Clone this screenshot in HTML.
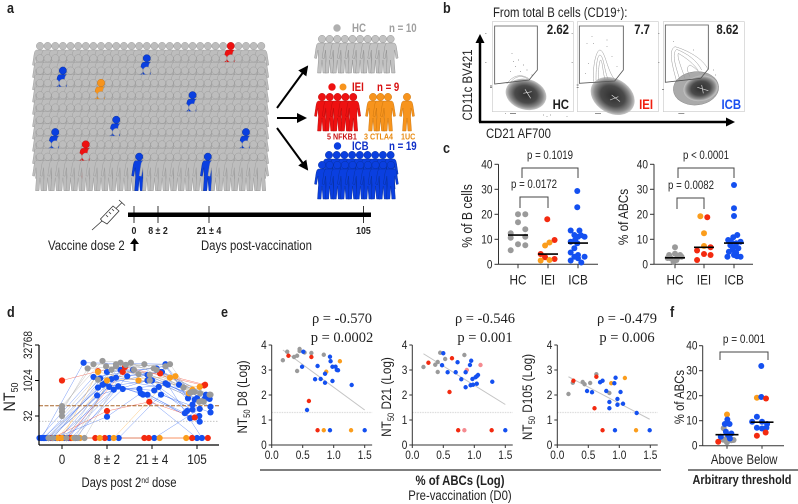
<!DOCTYPE html>
<html>
<head>
<meta charset="utf-8">
<title>Vaccination figure</title>
<style>
html,body{margin:0;padding:0;background:#fff;width:798px;height:504px;overflow:hidden}
svg{display:block;font-family:"Liberation Sans",sans-serif}
text{fill:#222}
.wide{font-family:"Liberation Serif",serif}
.letter{font-size:15px;font-weight:bold;fill:#222}
</style>
</head>
<body>
<svg id="fig" xmlns="http://www.w3.org/2000/svg" width="798" height="504" viewBox="0 0 798 504">
<defs>
<g id="person"><circle cx="0" cy="0" r="3.7"/><path d="M-3,4 L3,4 C5,4 5.5,6 6,9 L7.5,19 L5.5,19.5 L4,11 L3.5,20 L4.5,34 L1,34 L0,21 L-1,34 L-4.5,34 L-3.5,20 L-4,11 L-5.5,19.5 L-7.5,19 L-6,9 C-5.5,6 -5,4 -3,4 Z"/></g>
<radialGradient id="blob"><stop offset="0" stop-color="#2e2e2e"/><stop offset=".55" stop-color="#4a4a4a"/><stop offset=".82" stop-color="#8a8a8a"/><stop offset="1" stop-color="#c8c8c8"/></radialGradient>
<marker id="ah" viewBox="0 0 10 10" refX="8" refY="5" markerWidth="5" markerHeight="5" orient="auto"><path d="M0,0 L10,5 L0,10 Z" fill="#000"/></marker>
</defs>

<text class="letter" x="7" y="13">a</text>
<text class="letter" x="443" y="13">b</text>
<text class="letter" x="443" y="153">c</text>
<text class="letter" x="7" y="317">d</text>
<text class="letter" x="221" y="317">e</text>
<text class="letter" x="670" y="317">f</text>

<!-- panel a -->
<g id="crowd"></g>
<g id="groups"></g>
<g font-size="11.500">
<circle cx="337" cy="28" r="3.7" fill="#b0b0b0"/>
<text x="352" y="32" font-weight="bold" style="fill:#a0a0a0">HC</text>
<text x="389" y="32" font-weight="bold" style="fill:#a0a0a0">n = 10</text>
<circle cx="332" cy="87" r="3.7" fill="#ee1111"/>
<circle cx="343" cy="87" r="3.5" fill="#f7941d"/>
<text x="352" y="91" font-weight="bold" style="fill:#d81010">IEI</text>
<text x="377" y="91" font-weight="bold" style="fill:#d81010">n = 9</text>
<text x="327" y="139.500" font-size="8.500" font-weight="bold" style="fill:#c81414">5 NFKB1</text>
<text x="364" y="139.500" font-size="8.500" font-weight="bold" style="fill:#e88a10">3 CTLA4</text>
<text x="401" y="139.500" font-size="8.500" font-weight="bold" style="fill:#e88a10">1UC</text>
<circle cx="337.500" cy="146" r="3.7" fill="#0a3fe0"/>
<text x="352" y="150" font-weight="bold" style="fill:#1030c8">ICB</text>
<text x="389" y="150" font-weight="bold" style="fill:#1030c8">n = 19</text>
</g>
<g stroke="#000" stroke-width="2">
<line x1="277" y1="108" x2="307" y2="67" marker-end="url(#ah)"/>
<line x1="277" y1="118" x2="305" y2="118" marker-end="url(#ah)"/>
<line x1="277" y1="128" x2="307" y2="169" marker-end="url(#ah)"/>
</g>
<g>
<rect x="128" y="212.500" width="243" height="4.500" fill="#000"/>
<line x1="134" y1="206" x2="134" y2="223" stroke="#000" stroke-width=".8"/>
<line x1="158" y1="206" x2="158" y2="223" stroke="#000" stroke-width=".8"/>
<line x1="209" y1="206" x2="209" y2="223" stroke="#000" stroke-width=".8"/>
<line x1="363.500" y1="206" x2="363.500" y2="223" stroke="#000" stroke-width=".8"/>
<text x="134" y="234" font-size="10.500" font-weight="bold" text-anchor="middle">0</text>
<text x="158" y="234" font-size="10.500" font-weight="bold" text-anchor="middle">8 ± 2</text>
<text x="209" y="234" font-size="10.500" font-weight="bold" text-anchor="middle">21 ± 4</text>
<text x="363.500" y="234" font-size="10.500" font-weight="bold" text-anchor="middle">105</text>
<text x="48" y="250" font-size="13.500">Vaccine dose 2</text>
<text x="201" y="250" font-size="13.500">Days post-vaccination</text>
<path d="M134.500,238 L130,244 L133.500,244 L133.500,251 L135.500,251 L135.500,244 L139,244 Z" fill="#000"/>
<g stroke="#333" stroke-width=".8" fill="#fff">
<path d="M92,230 L102,221"/>
<path d="M102,221 L100.500,219 L113,206 L119,211 L107,224 Z"/>
<path d="M116,208.500 L122,202.500 M119,200 L125,205.500 M106,215 L108,217 M109,212 L111,214 M112,209 L114,211" fill="none"/>
</g>
</g>

<!-- panel b -->
<text x="493" y="17" font-size="13.500">From total B cells (CD19<tspan font-size="8" dy="-4">+</tspan><tspan dy="4">):</tspan></text>
<g transform="translate(460,0) scale(.33333)">
<g>
<rect x="97" y="65" width="243" height="270" fill="#fff" stroke="#ccc" stroke-width="2"/>
<path d="M150,250 C165,225 190,225 207,240 M140,252 C165,215 200,225 215,245" fill="none" stroke="#999" stroke-width="1.500"/>
<ellipse cx="198" cy="283" rx="62" ry="46" transform="rotate(15 198 283)" fill="url(#blob)"/>
<path d="M195,268 L212,295 M190,280 L215,275" stroke="#ddd" stroke-width="2"/>
<path d="M104,78 L232,78 L232,210 L207,240 L104,252 Z" fill="none" stroke="#555" stroke-width="2.500"/>
<path d="M155,160h2M175,180h2M165,200h2M190,195h2M150,215h2M200,210h2M180,215h2M160,185h2M215,225h2M250,345h2M260,350h2M270,345h2M320,350h2M150,340h18M135,340h2M90,258h6M90,262h6M76,100h3M76,187h3" stroke="#444" stroke-width="2" fill="none"/>
</g>
<g>
<rect x="352" y="65" width="243" height="270" fill="#fff" stroke="#ccc" stroke-width="2"/>
<ellipse cx="458" cy="288" rx="70" ry="52" transform="rotate(30 458 288)" fill="url(#blob)"/>
<path d="M400,245 C398,190 410,150 420,150 C437,155 440,210 465,240 M408,240 C408,195 412,165 420,165 C432,170 432,210 445,240 M415,240 C415,210 418,180 422,180 C428,185 428,215 435,238" fill="none" stroke="#999" stroke-width="1.500"/>
<path d="M455,285 L480,305 M450,300 L475,290" stroke="#ddd" stroke-width="2"/>
<path d="M358,78 L490,78 L490,210 L464,243 L358,250 Z" fill="none" stroke="#555" stroke-width="2.500"/>
<path d="M380,130h2M400,130h2M440,140h2M455,170h2M385,190h2M375,220h2M470,200h2M440,120h2M395,110h2M405,340h18M350,255h6M350,262h6M335,100h3M335,187h3" stroke="#555" stroke-width="2" fill="none"/>
</g>
<g>
<rect x="610" y="65" width="243" height="270" fill="#fff" stroke="#ccc" stroke-width="2"/>
<ellipse cx="708" cy="265" rx="68" ry="50" transform="rotate(-5 708 265)" fill="#aaa" stroke="#888" stroke-width="1.500"/>
<ellipse cx="722" cy="265" rx="52" ry="38" transform="rotate(-10 722 265)" fill="url(#blob)"/>
<path d="M650,245 C635,190 625,150 645,140 C680,150 730,175 745,210 M660,240 C645,195 635,160 650,148 C680,160 710,180 725,210 M675,235 C665,205 650,170 655,160 C680,175 700,190 715,212 M690,230 C680,210 680,200 690,195 C700,200 712,210 720,220" fill="none" stroke="#999" stroke-width="1.500"/>
<path d="M712,262 L745,272 M725,255 L730,280" stroke="#ddd" stroke-width="2"/>
<path d="M616,75 L745,75 L745,207 L722,235 L616,247 Z" fill="none" stroke="#555" stroke-width="2.500"/>
<path d="M760,210h2M765,225h2M700,150h2M640,125h2M655,340h18M606,268h6M595,100h3M595,187h3" stroke="#555" stroke-width="2" fill="none"/>
</g>
</g>
<g font-weight="bold" font-size="13.500">
<text x="569" y="34" text-anchor="end">2.62</text>
<text x="650" y="34" text-anchor="end">7.7</text>
<text x="738.500" y="34" text-anchor="end">8.62</text>
<text x="569" y="109" text-anchor="end">HC</text>
<text x="653" y="109" text-anchor="end" style="fill:#f02010">IEI</text>
<text x="741" y="109" text-anchor="end" style="fill:#1a50f0">ICB</text>
</g>
<g>
<path d="M480,122 L480,42" stroke="#000" stroke-width="2.500"/>
<path d="M480,34 L475.500,43 L484.500,43 Z" fill="#000"/>
<path d="M479,122 L727,122" stroke="#000" stroke-width="2.500"/>
<path d="M735,122 L726,117.500 L726,126.500 Z" fill="#000"/>
<text x="472" y="85" font-size="13.500" text-anchor="middle" transform="rotate(-90 472 85)">CD11c BV421</text>
<text x="486" y="138" font-size="13.500">CD21 AF700</text>
</g>

<!-- panel c -->
<g id="panelC"></g>
<text x="472" y="216" font-size="14.500" text-anchor="middle" transform="rotate(-90 472 216)">% of B cells</text>
<text x="628" y="217" font-size="14" text-anchor="middle" transform="rotate(-90 628 217)">% of ABCs</text>
<g fill="none" stroke="#444" stroke-width="1">
<path d="M522,178 V168 H578 V178"/>
<path d="M520,208 V197 H548 V208"/>
<path d="M678,178 V168 H734 V178"/>
<path d="M677,209 V198 H704 V209"/>
</g>
<g font-size="11.500" text-anchor="middle">
<text x="550" y="159">p = 0.1019</text>
<text x="534" y="188">p = 0.0172</text>
<text x="706" y="159">p &lt; 0.0001</text>
<text x="691" y="189">p = 0.0082</text>
</g>

<!-- panel d -->
<g id="panelD"></g>
<text x="15" y="397" font-size="17" text-anchor="middle" transform="rotate(-90 15 397)">NT<tspan font-size="10.500" dy="3">50</tspan></text>
<text x="129" y="487" font-size="13.500" text-anchor="middle">Days post 2<tspan font-size="8" dy="-4">nd</tspan><tspan dy="4"> dose</tspan></text>

<!-- panel e -->
<g id="panelE"></g>
<g font-size="14.500" text-anchor="middle">
<text class="wide" x="342" y="323">ρ = -0.570</text>
<text class="wide" x="342" y="342">p = 0.0002</text>
<text class="wide" x="485" y="323">ρ = -0.546</text>
<text class="wide" x="485" y="342">p = 0.001</text>
<text class="wide" x="627" y="323">ρ = -0.479</text>
<text class="wide" x="627" y="342">p = 0.006</text>
</g>
<text x="247" y="397" font-size="14" text-anchor="middle" transform="rotate(-90 247 397)">NT<tspan font-size="9" dy="3">50</tspan><tspan dy="-3"> D8 (Log)</tspan></text>
<text x="391" y="397" font-size="14" text-anchor="middle" transform="rotate(-90 391 397)">NT<tspan font-size="9" dy="3">50</tspan><tspan dy="-3"> D21 (Log)</tspan></text>
<text x="532" y="397" font-size="14" text-anchor="middle" transform="rotate(-90 532 397)">NT<tspan font-size="9" dy="3">50</tspan><tspan dy="-3"> D105 (Log)</tspan></text>
<line x1="260" y1="470" x2="661" y2="470" stroke="#555" stroke-width="1.500"/>
<text x="460" y="485" font-size="13.500" font-weight="bold" text-anchor="middle">% of ABCs (Log)</text>
<text x="460" y="500" font-size="13.500" text-anchor="middle">Pre-vaccination (D0)</text>

<!-- panel f -->
<g id="panelF"></g>
<text x="684" y="397" font-size="13.500" text-anchor="middle" transform="rotate(-90 684 397)">% of ABCs</text>
<path d="M720,360 V352 H768 V360" fill="none" stroke="#444" stroke-width="1"/>
<text x="744" y="343" font-size="12" text-anchor="middle">p = 0.001</text>
<line x1="688" y1="470" x2="798" y2="470" stroke="#555" stroke-width="1.500"/>
<text x="742" y="484" font-size="13" font-weight="bold" text-anchor="middle">Arbitrary threshold</text>
</svg>

<script>
/* ---------- shared colours ---------- */
const palette = {g:'#9a9a9a', r:'#f32a10', o:'#fb9d1c', b:'#1450f0', p:'#f58a90'};

/* ---------- panel c data ---------- */
const cCategories = ['HC','IEI','ICB'];
const cTicks = [0,10,20,30,40];
const bCellsHC = [20,20,16.8,14,12.4,10.6,11,5.6,8,7.6];
const bCellsHCSwarm = [0,1,0,1,-1,-1,1,-1,0,1];
const bCellsHCColors = ['g','g','g','g','g','g','g','g','g','g'];
const bCellsIEI = [18,9.7,8.7,7.5,4.1,2.8,2.1,1.5,1.7];
const bCellsIEISwarm = [-0.1,0.9,0.2,-0.4,-1,-0.4,0.9,-1,0.2];
const bCellsIEIColors = ['r','r','o','o','r','r','r','o','o'];
const bCellsICB = [29.3,22.8,13.5,13.5,11.7,11,11,9,8.4,6.4,4.7,3,1.5,3.7,0.7,3,2.4,11.6,9.7];
const bCellsICBSwarm = [-0.1,-0.1,-1,0.2,-0.5,0.9,0,-1,-0.1,-0.5,-1,0.9,-1,0,0.45,-0.5,0,0.4,-0.4];
const bCellsMedians = [11.7,4.1,8.5];
const abcHC = [6.8,3.7,4.2,3.7,2.4,1.7,3,2.5,1.0,2.8];
const abcHCSwarm = [0,-0.8,0,0.7,-0.6,0.2,0.9,-1,-0.2,0.4];
const abcHCColors = ['g','g','g','g','g','g','g','g','g','g'];
const abcIEI = [19.2,18.8,12.4,7.3,5.5,6.8,4.1,3.7,1.7];
const abcIEISwarm = [-0.5,0.45,0,0,-0.95,0.9,0,0.9,-0.95];
const abcIEIColors = ['o','r','o','o','r','r','r','r','r'];
const abcICB = [31.7,22.4,19.3,11.7,10.8,9.7,9,9,8.4,7.6,7,6.4,5.8,5,4.6,3.7,3,3,3.2];
const abcICBSwarm = [0,0,0,0.45,-0.1,-0.8,0.9,-0.4,0.3,-0.5,0.1,0.6,-0.2,-0.7,0.3,0,-0.9,0.9,0.4];
const abcMedians = [2.6,6.8,8.5];

/* ---------- panel d data: log2 NT50 per subject at 4 visits ---------- */
const dVisits = ['0','8 ± 2','21 ± 4','105'];
const dTickExponents = [5,10,15];
const dTickLabels = ['32','1024','32768'];
const dGroups = ['b','b','b','b','b','b','b','b','b','b','b','b','b','b','b','b','b','b','b','r','r','r','r','r','o','o','o','o','g','g','g','g','g','g','g','g','g','g'];
const dDay0 = [1.9,1.9,1.9,1.9,1.9,1.9,1.9,1.9,1.9,1.9,1.9,1.9,1.9,1.9,1.9,1.9,1.9,1.9,1.9,10.0,1.9,1.9,1.9,1.9,1.9,1.9,1.9,1.9,6.4,6.0,5.6,5.0,1.9,1.9,1.9,1.9,1.9,1.9];
const dDay8 = [12.5,10.5,10.3,9.4,9.0,7.9,4.9,9.6,9.1,8.7,10.2,10.4,9.2,8.8,11.5,11.2,10.6,1.9,1.9,11.3,5.7,1.9,11.2,1.9,11.2,10.0,1.9,1.9,12.75,12.3,11.7,12.0,12.3,10.1,11.5,12.5,12.0,12.2];
const dDay21 = [12.3,12.0,11.2,10.8,10.0,10.0,8.2,8.0,8.6,8.8,9.1,9.6,8.0,9.4,11.5,11.7,11.2,1.9,8.0,11.9,7.0,1.9,11.0,1.9,10.0,10.6,1.9,10.4,12.5,12.3,12.3,11.7,12.0,11.5,10.9,10.8,10.0,11.5];
const dDay105 = [9.4,7.5,6.6,7.5,7.5,5.7,4.2,5.4,5.9,4.7,5.0,6.3,1.9,1.9,7.3,8.0,7.4,6.0,5.5,9.3,4.8,1.9,9.4,1.9,9.1,8.2,1.9,8.7,8.4,8.2,8.3,7.0,7.1,8.0,9.0,8.4,7.0,8.0];
const dJitter0 = [-0.45,-0.5,-0.4,-0.35,-0.3,-0.25,-0.15,-0.42,-0.3,-0.1,-0.05,0.05,0.1,0.2,0.15,-0.2,0.3,-0.38,-0.12,0,-0.22,-0.05,0.1,0.2,0.0,-0.1,0.25,0.4,0,0,0,0,-0.2,-0.3,0.1,0.28,0.35,0.5];
const dJitter8 = [-0.52,-0.3,-0.15,-0.1,-0.2,-0.22,0,-0.05,0.05,0.15,0.1,0.2,0.25,0.35,0.3,0.0,0.45,0.05,0.26,-0.2,0,-0.26,0.35,-0.05,-0.2,0,-0.16,0.15,-0.1,-0.3,-0.43,-0.02,0.2,-0.2,0.1,0.3,0.2,0.42];
const dJitter21 = [0.3,0.3,0.2,-0.1,0,-0.1,-0.25,-0.1,0.05,-0.28,0.15,0.3,-0.2,0.35,-0.42,0.1,0.22,0.05,0.2,-0.6,-0.06,-0.17,0.18,-0.07,-0.3,0.52,0.17,0.4,-0.47,-0.17,0.4,0.04,0.3,-0.4,-0.3,-0.05,-0.05,0.1];
const dJitter105 = [-0.4,-0.2,-0.1,0,0.18,-0.22,0.06,-0.27,-0.1,-0.15,0.05,0.3,0,0.11,-0.05,0.2,0.28,0.06,0.3,0.16,-0.05,-0.11,0.18,0.24,0.06,-0.18,-0.24,-0.1,-0.05,0.07,-0.15,0.05,0.1,0.3,-0.3,-0.1,0.15,0.28];

/* ---------- panel e data ---------- */
const eTicksX = [0,0.5,1,1.5];
const eTicksY = [0,1,2,3,4];
const d8AbcLog = [.18,.25,.36,.41,.41,.45,.45,.53,.64,.84,.27,.64,.6,.74,1.1,.88,.84,1.28,.51,.49,.74,.94,.95,.98,1.03,1.05,1.07,.86,.7,.79,.86,.98,1.29,.57,.94,1.5];
const d8Nt50Log = [3.39,3.73,3.52,3.57,2.96,3.84,3.76,3.7,3.68,3.61,3.57,3.52,1.76,.59,3.35,2.93,.59,.59,3.73,3.13,3.16,3.53,3.35,3.13,3.13,3.0,2.99,2.85,2.63,2.64,2.49,2.56,2.4,1.4,.59,.59];
const d8Colors = ['g','g','g','g','g','g','g','g','g','g','r','r','r','r','o','o','o','o','b','b','b','b','b','b','b','b','b','b','b','b','b','b','b','b','b','b'];
const d8TrendX = [.18,1.5];
const d8TrendY = [3.8,1.4];
const d21AbcLog = [.18,.45,.41,.37,.41,.53,.84,.26,.64,.6,.74,1.28,1.1,.88,.84,.5,.48,.57,.7,.73,.95,.93,.86,.79,.86,.94,.98,1.04,.97,1.02,1.04,1.06,1.29,1.5];
const d21Nt50Log = [3.12,3.69,3.32,3.21,2.92,3.44,3.6,3.29,3.47,2.12,.59,.59,3.2,3.0,.59,3.67,3.19,2.91,2.91,3.31,3.37,3.2,2.91,2.63,2.31,2.39,2.41,2.45,2.64,2.71,2.75,2.8,2.53,.59];
const d21Colors = ['g','g','g','g','g','g','g','r','r','r','r','r','p','p','p','b','b','b','b','b','b','b','b','b','b','b','b','b','b','b','b','b','b','b'];
const d21TrendX = [.18,1.5];
const d21TrendY = [3.65,1.62];
const d105AbcLog = [.18,.25,.41,.44,.53,.63,.84,.26,.63,.6,.73,.87,1.09,1.27,.48,.56,.69,.73,.79,.84,.84,.92,.94,.97,.97,1.02,1.06,1.28,.93,1.49];
const d105Nt50Log = [2.04,2.49,2.52,2.43,2.48,2.83,2.08,2.57,2.73,1.47,.59,2.47,2.68,.59,2.16,2.11,2.51,2.57,2.16,1.72,1.47,2.47,2.69,1.84,1.61,2.12,1.65,1.28,.59,.59];
const d105Colors = ['g','g','g','g','g','g','g','r','r','r','r','o','o','o','b','b','b','b','b','b','b','b','b','b','b','b','b','b','b','b'];
const d105TrendX = [.18,1.49];
const d105TrendY = [2.73,1.03];

/* ---------- panel f data ---------- */
const fCategories = ['Above','Below'];
const fTicks = [0,10,20,30,40];
const aboveValues = [3,2.2,2.4,1.4,2.3,7,1.6,12.5,10.5,9,8.7,8.7,4.9,3.6,2.9,5.6,4.3];
const aboveSwarm = [0,0.6,-0.5,0,0.9,-0.45,-1.2,0,0.05,0,-0.3,0.35,0.6,-0.85,0.4,-0.15,0.15];
const aboveColors = ['g','g','g','g','g','g','r','o','b','b','b','b','b','b','b','b','b'];
const belowValues = [31.9,19.2,19.5,18.9,11.6,9.6,9.6,8.7,7.2,6.9,7.2,4,5.3];
const belowSwarm = [-0.1,-0.7,-0.1,0.55,-0.7,0,-1.35,0.7,-0.7,0,0.6,-0.7,0.5];
const belowColors = ['b','o','b','r','b','b','b','b','b','b','b','r','r'];
const fMedians = [4.4,9.4];

/* ---------- crowd membership ---------- */
const crowdColumns = 30;
const crowdRows = 10;
const highlightRow = [0,1,2,3,4,6,7,7,8,9,9];
const highlightCol = [25,14,3,8,20,10,2,27,6,13,22];
const highlightTone = ['red','blue','blue','orange','blue','blue','blue','blue','red','blue','blue'];

const NS = 'http://www.w3.org/2000/svg';
const personTones = {
  gray:['#bdbdbd','#9a9a9a'], red:['#ee1111','#b80c0c'], orange:['#f7941d','#c87410'], blue:['#0a3fe0','#08309a'], lightgray:['#c2c2c2','#8f8f8f']
};
function mk(tag, attrs, parent){
  const el = document.createElementNS(NS, tag);
  for (const k in attrs) el.setAttribute(k, attrs[k]);
  parent.appendChild(el);
  return el;
}
function addPerson(parent, x, y, tone){
  const c = personTones[tone];
  const el = mk('use', {href:'#person', x:x, y:y, fill:c[0], stroke:c[1], 'stroke-width':0.45}, parent);
  
  
  return el;
}

/* ---------- panel a ---------- */
const crowd = document.getElementById('crowd');
for (let r = 0; r < crowdRows; r++){
  for (let c = 0; c < crowdColumns; c++){
    let tone = 'gray';
    for (let h = 0; h < highlightRow.length; h++){
      if (highlightRow[h] === r && highlightCol[h] === c) tone = highlightTone[h];
    }
    addPerson(crowd, 40 + 7.63 * c, 46 + 12.3 * r, tone);
  }
}
const groups = document.getElementById('groups');
for (let i = 0; i < 10; i++) addPerson(groups, 322 + 7.62 * i, 39, 'lightgray');
for (let i = 0; i < 5; i++) addPerson(groups, 322 + 7.8 * i, 97, 'red');
[373,380.5,388].forEach(function(x){ addPerson(groups, x, 97, 'orange'); });
addPerson(groups, 407, 97, 'orange');
for (let i = 0; i < 9; i++) addPerson(groups, 329 + 7.7 * i, 155, 'blue');
for (let i = 0; i < 10; i++) addPerson(groups, 322 + 7.65 * i, 165, 'blue');

/* ---------- generic text ---------- */
function txt(parent, x, y, s, size, anchor, rotate){
  const attrs = {x:x, y:y, 'font-size':size, 'text-anchor':anchor};
  if (rotate) attrs.transform = 'rotate(' + rotate + ' ' + x + ' ' + y + ')';
  const el = mk('text', attrs, parent);
  el.textContent = s;
  return el;
}

/* ---------- panel c ---------- */
const panelC = document.getElementById('panelC');
const cY = v => 264.3 - v * 2.5;
function swarmChart(axisX, axisEnd, catX, series, medians, name){
  const g = mk('g', {}, panelC);
  
  
  const yAxis = mk('line', {x1:axisX, x2:axisX, y1:cY(40), y2:cY(0), stroke:'#333'}, g);
  
  
  const xAxis = mk('line', {x1:axisX, x2:axisEnd, y1:cY(0), y2:cY(0), stroke:'#333'}, g);
  
  
  cTicks.forEach(function(t){
    const tk = mk('line', {x1:axisX-4, x2:axisX, y1:cY(t), y2:cY(t), stroke:'#333'}, g);
    
    
    const lb = txt(g, axisX-6, cY(t)+4, String(t), 12, 'end');
    
    
  });
  cCategories.forEach(function(cat, i){
    const tk = mk('line', {x1:catX[i], x2:catX[i], y1:cY(0), y2:cY(0)+4, stroke:'#333'}, g);
    
    
    const lb = txt(g, catX[i], 284.5, cat, 14, 'middle');
    
    
    series[i].values.forEach(function(v, k){
      const col = palette[series[i].colors ? series[i].colors[k] : 'b'];
      const dot = mk('circle', {cx:catX[i] + series[i].swarm[k]*7.3, cy:cY(v), r:3, fill:col}, g);
      
      
    });
    const med = mk('line', {x1:catX[i]-10, x2:catX[i]+10, y1:cY(medians[i]), y2:cY(medians[i]), stroke:'#000', 'stroke-width':1.6}, g);
    
    
  });
}
swarmChart(498.5, 598, [518,548,578], [
  {values:bCellsHC, swarm:bCellsHCSwarm, colors:bCellsHCColors},
  {values:bCellsIEI, swarm:bCellsIEISwarm, colors:bCellsIEIColors},
  {values:bCellsICB, swarm:bCellsICBSwarm}
], bCellsMedians, 'bcells-chart');
swarmChart(654, 753, [675,704,734], [
  {values:abcHC, swarm:abcHCSwarm, colors:abcHCColors},
  {values:abcIEI, swarm:abcIEISwarm, colors:abcIEIColors},
  {values:abcICB, swarm:abcICBSwarm}
], abcMedians, 'abcs-chart');

/* ---------- panel d ---------- */
const panelD = document.getElementById('panelD');
const dY = e => 345 + (15 - e) * 7.1;
const dX = (i, j) => 62 + i * 45 + j * 45;
(function(){
  const rows = [dDay0, dDay8, dDay21, dDay105];
  const jit = [dJitter0, dJitter8, dJitter21, dJitter105];
  dGroups.forEach(function(g, s){
    const pts = rows.map((r, i) => dX(i, jit[i][s]) + ',' + dY(r[s])).join(' ');
    const ln = mk('polyline', {points:pts, fill:'none', stroke:palette[g], 'stroke-width':0.5, opacity:0.6}, panelD);
    
    
  });
  const dash = mk('line', {x1:39, x2:219, y1:405.7, y2:405.7, stroke:'#a8652a', 'stroke-width':1, 'stroke-dasharray':'4 1.5'}, panelD);
  
  
  const dots = mk('line', {x1:39, x2:219, y1:421.3, y2:421.3, stroke:'#bbb', 'stroke-width':0.8, 'stroke-dasharray':'1.5 1.5'}, panelD);
  
  
  ['b','r','o','g'].forEach(function(layer){
    dGroups.forEach(function(g, s){
      if (g !== layer) return;
      rows.forEach(function(r, i){
        const c = mk('circle', {cx:dX(i, jit[i][s]), cy:dY(r[s]), r:3.1, fill:palette[g]}, panelD);
        
        
      });
    });
  });
  const ya = mk('line', {x1:39, x2:39, y1:345, y2:445, stroke:'#000', 'stroke-width':1.2}, panelD);
  
  
  const xa = mk('line', {x1:39, x2:219, y1:445, y2:445, stroke:'#000', 'stroke-width':1.2}, panelD);
  
  
  dTickExponents.forEach(function(e, i){
    const t = mk('line', {x1:35, x2:39, y1:dY(e), y2:dY(e), stroke:'#000'}, panelD);
    
    
    const l = txt(panelD, 32, dY(e), dTickLabels[i], 12, 'middle', -90);
    
    
  });
  dVisits.forEach(function(v, i){
    const t = mk('line', {x1:dX(i,0), x2:dX(i,0), y1:445, y2:449, stroke:'#000'}, panelD);
    
    
    const l = txt(panelD, dX(i,0), 464, v, 14, 'middle');
    
    
  });
})();

/* ---------- panel e ---------- */
const panelE = document.getElementById('panelE');
const eY = v => 445 - v * 25;
function scatter(axisX, xs, ys, cols, tx, ty, name){
  const eX = v => axisX + v * 62;
  const g = mk('g', {}, panelE);
  
  
  const limit = mk('line', {x1:eX(0), x2:eX(1.62), y1:eY(1.3), y2:eY(1.3), stroke:'#ddd', 'stroke-width':1.2, 'stroke-dasharray':'1.5 1'}, g);
  
  
  const trend = mk('line', {x1:eX(tx[0]), x2:eX(tx[1]), y1:eY(ty[0]), y2:eY(ty[1]), stroke:'#c4c4c4', 'stroke-width':1}, g);
  
  
  xs.forEach(function(x, i){
    const c = mk('circle', {cx:eX(x), cy:eY(ys[i]), r:2.2, fill:palette[cols[i]]}, g);
    
    
  });
  const ya = mk('line', {x1:axisX, x2:axisX, y1:eY(4), y2:eY(0), stroke:'#333'}, g);
  
  
  const xa = mk('line', {x1:axisX, x2:eX(1.62), y1:eY(0), y2:eY(0), stroke:'#333'}, g);
  
  
  eTicksY.forEach(function(t){
    const k = mk('line', {x1:axisX-3, x2:axisX, y1:eY(t), y2:eY(t), stroke:'#333'}, g);
    
    
    const l = txt(g, axisX-5, eY(t)+4, String(t), 12, 'end');
    
    
  });
  eTicksX.forEach(function(t){
    const k = mk('line', {x1:eX(t), x2:eX(t), y1:eY(0), y2:eY(0)+3, stroke:'#333'}, g);
    
    
    const l = txt(g, eX(t), 459, t.toFixed(1), 12, 'middle');
    
    
  });
}
scatter(271.7, d8AbcLog, d8Nt50Log, d8Colors, d8TrendX, d8TrendY, 'scatter-d8');
scatter(412.3, d21AbcLog, d21Nt50Log, d21Colors, d21TrendX, d21TrendY, 'scatter-d21');
scatter(557.3, d105AbcLog, d105Nt50Log, d105Colors, d105TrendX, d105TrendY, 'scatter-d105');

/* ---------- panel f ---------- */
const panelF = document.getElementById('panelF');
const fY = v => 445.7 - v * 2.5;
const fX = [727, 762];
(function(){
  const ya = mk('line', {x1:702.7, x2:702.7, y1:fY(40), y2:fY(0), stroke:'#333'}, panelF);
  
  
  const xa = mk('line', {x1:702.7, x2:784, y1:fY(0), y2:fY(0), stroke:'#333'}, panelF);
  
  
  fTicks.forEach(function(t){
    const k = mk('line', {x1:699, x2:702.7, y1:fY(t), y2:fY(t), stroke:'#333'}, panelF);
    
    
    const l = txt(panelF, 697.5, fY(t)+4, String(t), 12, 'end');
    
    
  });
  fCategories.forEach(function(c, i){
    const k = mk('line', {x1:fX[i], x2:fX[i], y1:fY(0), y2:fY(0)+3, stroke:'#333'}, panelF);
    
    
    const l = txt(panelF, fX[i], 464, c, 13.5, 'middle');
    
    
  });
  aboveValues.forEach(function(v, i){
    const c = mk('circle', {cx:fX[0] + aboveSwarm[i]*7.3, cy:fY(v), r:3, fill:palette[aboveColors[i]]}, panelF);
    
    
  });
  belowValues.forEach(function(v, i){
    const c = mk('circle', {cx:fX[1] + belowSwarm[i]*7.3, cy:fY(v), r:3, fill:palette[belowColors[i]]}, panelF);
    
    
  });
  fMedians.forEach(function(m, i){
    const l = mk('line', {x1:fX[i]-11.5, x2:fX[i]+11.5, y1:fY(m), y2:fY(m), stroke:'#000', 'stroke-width':1.6}, panelF);
    
    
  });
})();

/* narrow the sans text to match the condensed face of the original */
document.querySelectorAll('#fig text:not(.wide)').forEach(function(t){
  const w = t.getComputedTextLength();
  if (w > 0){
    t.setAttribute('textLength', (w * 0.84).toFixed(1));
    t.setAttribute('lengthAdjust', 'spacingAndGlyphs');
  }
});
</script>
</body>
</html>
